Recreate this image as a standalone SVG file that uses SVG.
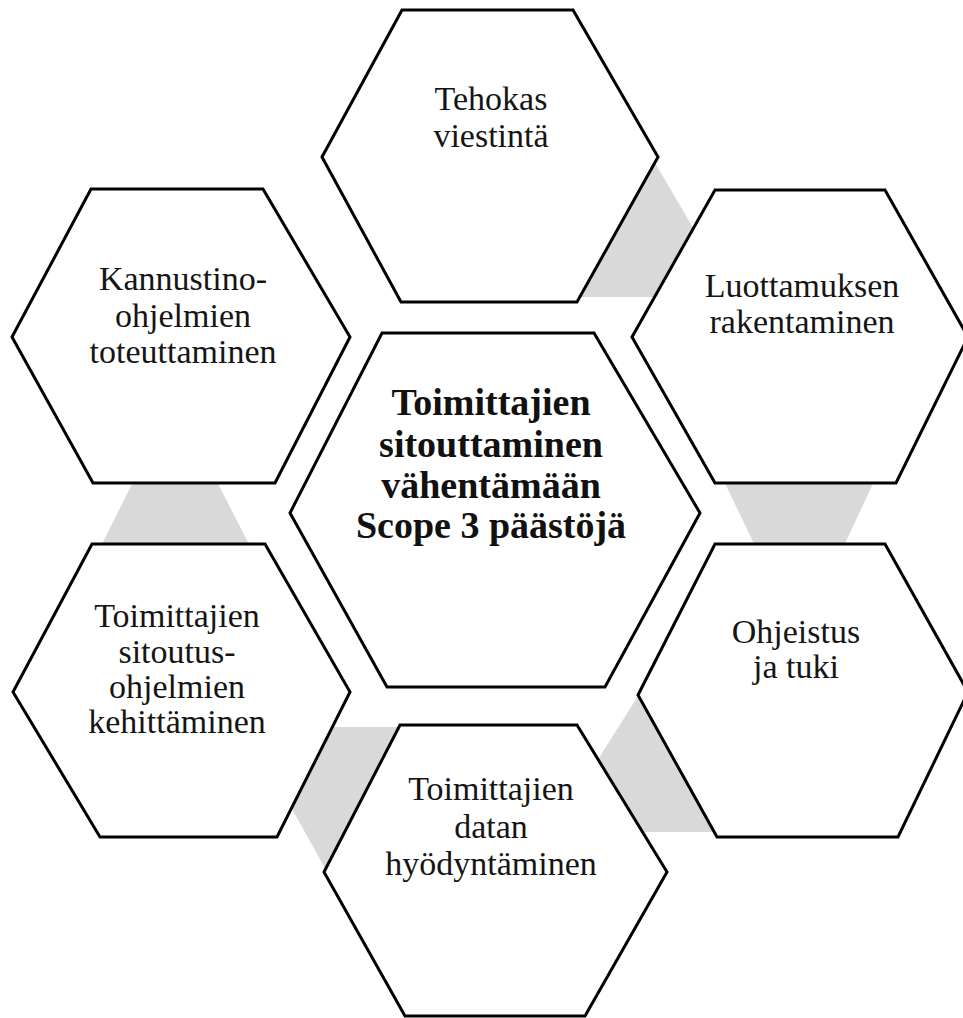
<svg xmlns="http://www.w3.org/2000/svg" width="963" height="1018" viewBox="0 0 963 1018">
<style>
.hex{fill:#ffffff;stroke:#000;stroke-width:3;stroke-linejoin:miter}
.band{fill:#d9d9d9;stroke:none}
.lbl{font-family:"Liberation Serif","Times New Roman",serif;font-size:34px;fill:#151515;text-anchor:middle}
.main{font-family:"Liberation Serif","Times New Roman",serif;font-size:38px;font-weight:bold;fill:#111;text-anchor:middle}
</style>
<rect width="963" height="1018" fill="#ffffff"/>
<g id="connectors">
<polygon class="band" points="655,163 695,231 680,297 570,297"/>
<polygon class="band" points="721,475 877,475 842,550 757,550"/>
<polygon class="band" points="638,696 725,832 630,832 590,772"/>
<polygon class="band" points="325,727 405,727 326,870 287,800"/>
<polygon class="band" points="136,476 214,476 252,550 99,550"/>
</g>
<g id="node-tehokas">
<polygon class="hex" points="322,157 402,10 573,10 658,157 577,302 401,302"/>
<text class="lbl" x="491" y="110">Tehokas</text>
<text class="lbl" x="491" y="147">viestintä</text>
</g>
<g id="node-luottamus">
<polygon class="hex" points="632,337 715,190 885,190 968,337 896,483 715,483"/>
<text class="lbl" x="802" y="297">Luottamuksen</text>
<text class="lbl" x="802" y="333">rakentaminen</text>
</g>
<g id="node-ohjeistus">
<polygon class="hex" points="638,695 715,544 885,544 968,692 898,837 717,837"/>
<text class="lbl" x="796" y="643">Ohjeistus</text>
<text class="lbl" x="796" y="678">ja tuki</text>
</g>
<g id="node-data">
<polygon class="hex" points="324,872 400,725 577,725 667,872 585,1016 405,1016"/>
<text class="lbl" x="491" y="800">Toimittajien</text>
<text class="lbl" x="491" y="838">datan</text>
<text class="lbl" x="491" y="875">hyödyntäminen</text>
</g>
<g id="node-sitoutus">
<polygon class="hex" points="13,692 92,544 265,544 350,692 277,837 100,837"/>
<text class="lbl" x="177" y="627">Toimittajien</text>
<text class="lbl" x="177" y="663">sitoutus-</text>
<text class="lbl" x="177" y="698">ohjelmien</text>
<text class="lbl" x="177" y="733">kehittäminen</text>
</g>
<g id="node-kannustin">
<polygon class="hex" points="12,337 91,189 263,189 350,337 275,483 93,483"/>
<text class="lbl" x="183" y="290">Kannustino-</text>
<text class="lbl" x="183" y="327">ohjelmien</text>
<text class="lbl" x="183" y="363">toteuttaminen</text>
</g>
<g id="node-center">
<polygon class="hex" points="290,513 382,333 594,333 700,513 605,687 387,687"/>
<text class="main" x="491" y="415">Toimittajien</text>
<text class="main" x="491" y="457">sitouttaminen</text>
<text class="main" x="491" y="498">vähentämään</text>
<text class="main" x="491" y="538">Scope 3 päästöjä</text>
</g>
</svg>
